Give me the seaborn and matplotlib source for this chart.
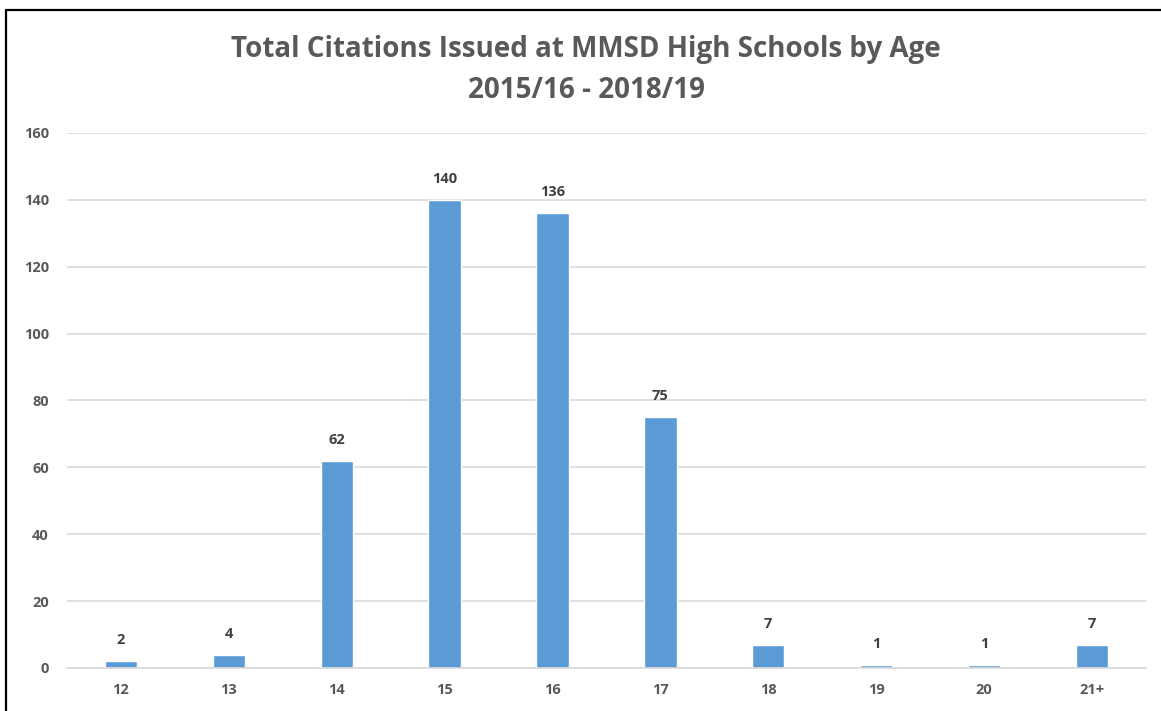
import numpy as np
import pandas as pd
import matplotlib.pyplot as plt
import seaborn as sns
from matplotlib.lines import Line2D

ages = ['12', '13', '14', '15', '16', '17', '18', '19', '20', '21+']
citations = [2, 4, 62, 140, 136, 75, 7, 1, 1, 7]
y_ticks = [0, 20, 40, 60, 80, 100, 120, 140, 160]
title_text = 'Total Citations Issued at MMSD High Schools by Age\n2015/16 - 2018/19'

sns.set_style('white')
plt.rcParams['font.family'] = ['Open Sans', 'DejaVu Sans']

df = pd.DataFrame({'age': ages, 'citations': citations})

fig = plt.figure(figsize=(11.61, 7.11), dpi=100)
ax = fig.add_axes([0.0577, 0.0605, 0.9293, 0.7525])

sns.barplot(data=df, x='age', y='citations', color='#5B9BD5', width=0.3,
            saturation=1, ax=ax)

ax.set_ylim(0, 160)
ax.set_yticks(y_ticks)
ax.yaxis.grid(True, color='#d9d9d9', linewidth=1.2)
ax.set_axisbelow(True)
for s in ['top', 'right', 'left']:
    ax.spines[s].set_visible(False)
ax.spines['bottom'].set_color('#d9d9d9')
ax.spines['bottom'].set_linewidth(1.2)
ax.set_xlabel('')
ax.set_ylabel('')
ax.tick_params(axis='both', length=0, labelsize=10.5, labelcolor='#595959')
ax.tick_params(axis='y', pad=13)
ax.tick_params(axis='x', pad=11)
for lab in ax.get_xticklabels() + ax.get_yticklabels():
    lab.set_fontweight('bold')

# data labels
for i, v in enumerate(citations):
    ax.annotate(str(v), (i, v), xytext=(0, 15), textcoords='offset points',
                ha='center', va='center', fontsize=10.5, fontweight='bold',
                color='#404040')

fig.text(0.505, 0.902, title_text, ha='center', va='center', fontsize=20,
         fontweight='bold', color='#595959', linespacing=1.55)

# frame lines on left and top
fig.add_artist(Line2D([6 / 1161, 6 / 1161], [0, 1 - 10 / 711], color='black', linewidth=1.6))
fig.add_artist(Line2D([6 / 1161, 1], [1 - 10 / 711, 1 - 10 / 711], color='black', linewidth=1.6))

fig.savefig('out.png', dpi=100)
